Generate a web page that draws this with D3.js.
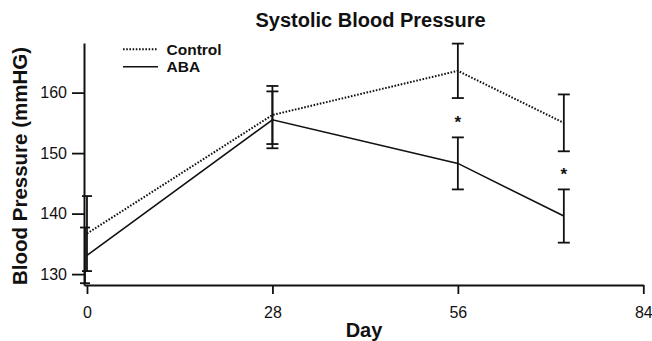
<!DOCTYPE html>
<html>
<head>
<meta charset="utf-8">
<script src="https://cdn.jsdelivr.net/npm/d3@7"></script>
<style>
  body { margin: 0; background: #fff; }
  svg { display: block; font-family: "Liberation Sans", Arial, Helvetica, sans-serif; }
</style>
</head>
<body>
<svg id="chart"></svg>
<script>
const width = 652;
const height = 341;

// data
const days = [0, 28, 56, 72];
const controlMean = [136.7, 156.3, 163.6, 155.0];
const controlErr = [6.2, 4.8, 4.5, 4.7];
const abaMean = [133.1, 155.5, 148.3, 139.6];
const abaErr = [4.6, 4.7, 4.3, 4.4];
const significant = [false, false, true, true];
const xTicks = [0, 28, 56, 84];
const yTicks = [130, 140, 150, 160];

const svg = d3.select("#chart").attr("width", width).attr("height", height);

const x = d3.scaleLinear().domain([-0.45, 84]).range([84, 643.3]);
const y = d3.scaleLinear().domain([128.2, 168.2]).range([285, 43]);

// axes
const xAxis = svg.append("g")
  .attr("transform", "translate(0,285)")
  .call(d3.axisBottom(x).tickValues(xTicks).tickSize(9).tickSizeOuter(0).tickPadding(13));
const yAxis = svg.append("g")
  .attr("transform", "translate(84,0)")
  .call(d3.axisLeft(y).tickValues(yTicks).tickSize(12).tickSizeOuter(0).tickPadding(5));

[xAxis, yAxis].forEach(g => {
  g.select(".domain").attr("stroke", "#111").attr("stroke-width", 2);
  g.selectAll(".tick line").attr("stroke", "#111").attr("stroke-width", 1.8);
  g.selectAll(".tick text")
    .attr("fill", "#111")
    .style("font-size", "16px")
    .style("font-family", "'Liberation Sans', Arial, sans-serif");
});

// series
const series = [
  { name: "Control", mean: controlMean, err: controlErr, dash: "1.6,1.6", off: 0 },
  { name: "ABA", mean: abaMean, err: abaErr, dash: null, off: -2 }
];

const line = d3.line().x(d => x(d[0])).y(d => y(d[1]));

series.forEach(s => {
  const pts = days.map((d, i) => [d, s.mean[i], s.err[i]]);
  svg.append("path")
    .datum(pts)
    .attr("d", line)
    .attr("fill", "none")
    .attr("stroke", "#111")
    .attr("stroke-width", s.dash ? 2 : 1.6)
    .attr("stroke-dasharray", s.dash);

  const bars = svg.append("g");
  pts.forEach((p, i) => {
    const cx = x(p[0]) + (i === 0 ? s.off : 0);
    const hw = i === 0 ? 5 : 6;
    const top = y(p[1] + p[2]);
    const bot = y(p[1] - p[2]);
    bars.append("line").attr("x1", cx).attr("x2", cx).attr("y1", top).attr("y2", bot);
    bars.append("line").attr("x1", cx - hw).attr("x2", cx + hw).attr("y1", top).attr("y2", top);
    bars.append("line").attr("x1", cx - hw).attr("x2", cx + hw).attr("y1", bot).attr("y2", bot);
  });
  bars.selectAll("line").attr("stroke", "#111").attr("stroke-width", 1.8);
});

// significance stars above the ABA error bars
svg.append("g")
  .selectAll("text")
  .data(days.map((d, i) => ({ day: d, top: abaMean[i] + abaErr[i], sig: significant[i] })).filter(d => d.sig))
  .enter()
  .append("text")
  .attr("x", d => x(d.day))
  .attr("y", d => y(d.top) - 9)
  .attr("text-anchor", "middle")
  .style("font-size", "17px")
  .style("font-weight", "bold")
  .attr("fill", "#111")
  .text("*");

// legend
const legend = svg.append("g");
series.forEach((s, i) => {
  const ly = 49.3 + i * 17.4;
  legend.append("line")
    .attr("x1", 123).attr("x2", 158).attr("y1", ly).attr("y2", ly)
    .attr("stroke", "#111")
    .attr("stroke-width", s.dash ? 2 : 1.6)
    .attr("stroke-dasharray", s.dash);
  legend.append("text")
    .attr("x", 166.5).attr("y", ly + 5.6)
    .style("font-size", "15.5px")
    .style("font-weight", "bold")
    .attr("fill", "#111")
    .text(s.name);
});

// titles
svg.append("text")
  .attr("x", 370.5).attr("y", 27)
  .attr("text-anchor", "middle")
  .style("font-size", "20px")
  .style("font-weight", "bold")
  .attr("fill", "#111")
  .text("Systolic Blood Pressure");

svg.append("text")
  .attr("x", 364).attr("y", 337)
  .attr("text-anchor", "middle")
  .style("font-size", "20px")
  .style("font-weight", "bold")
  .attr("fill", "#111")
  .text("Day");

svg.append("text")
  .attr("transform", "translate(27,166) rotate(-90)")
  .attr("text-anchor", "middle")
  .style("font-size", "20.5px")
  .style("font-weight", "bold")
  .attr("fill", "#111")
  .text("Blood Pressure (mmHG)");
</script>
</body>
</html>
